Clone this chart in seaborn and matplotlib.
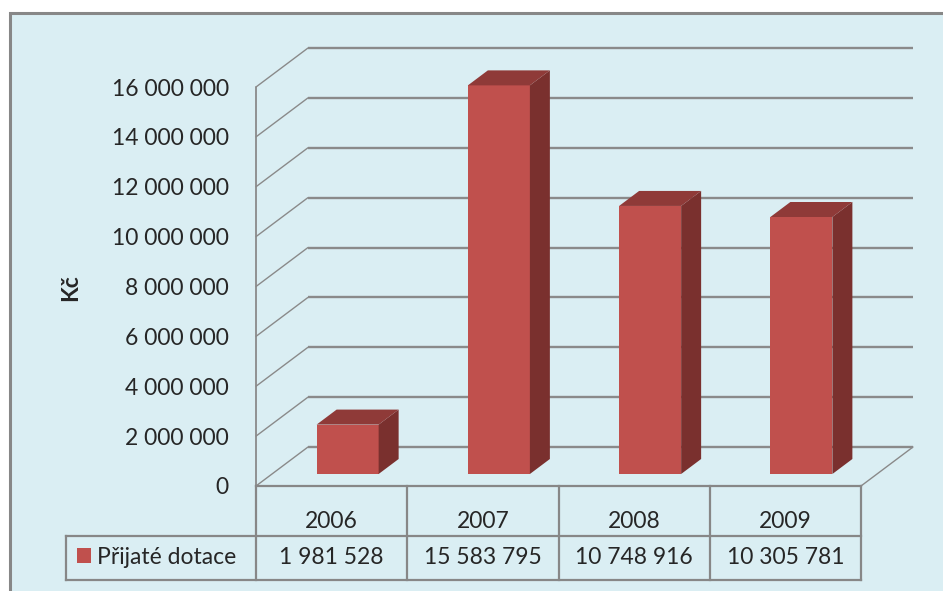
import matplotlib
matplotlib.use("Agg")
import matplotlib.pyplot as plt
from matplotlib.patches import Polygon, Rectangle
import pandas as pd
import seaborn as sns

# ---- data ----
years = ["2006", "2007", "2008", "2009"]
values = [1981528, 15583795, 10748916, 10305781]
series_name = "Přijaté dotace"
y_ticks = [0, 2000000, 4000000, 6000000, 8000000, 10000000, 12000000, 14000000, 16000000]
y_label = "Kč"


def fmt(v):
    return f"{v:,}".replace(",", " ")


# ---- style ----
sns.set_style("white")
plt.rcParams["font.family"] = ["Lato", "DejaVu Sans"]

W, H = 943, 591
BG = "#DAEEF3"
EDGE = "#878787"
GRID = "#8A8A8A"
FRONT = "#C0504D"
SIDE = "#7A302E"
TOP = "#8F3A38"
FS = 16.5

fig = plt.figure(figsize=(W / 100, H / 100), dpi=100)
fig.patch.set_facecolor("white")
fig.patches.append(Rectangle((10 / W, -0.1), 1.2, (H - 13) / H + 0.1,
                             transform=fig.transFigure, facecolor=BG,
                             edgecolor=EDGE, lw=2.2, zorder=-10))


def px_box(left, right, top, bottom):
    return [left / W, 1 - bottom / H, (right - left) / W, (bottom - top) / H]


# main axes: front plane of the floor / left wall
ax = fig.add_axes(px_box(256, 861, 87, 486))
ax.set_xlim(-0.5, 3.5)
ax.set_ylim(0, 16000000)
ax.patch.set_alpha(0)
for s in ax.spines.values():
    s.set_visible(False)

sx = 605 / 4.0          # px per category unit
sy = 399 / 16000000.0   # px per value unit
Dx, Dy = 52 / sx, 39 / sy   # full depth of the 3D box
dx, dy = 20 / sx, 15 / sy   # depth of a bar

# back wall gridlines and left wall diagonals
for t in y_ticks:
    ax.plot([-0.5 + Dx, 3.5 + Dx], [t + Dy, t + Dy], color=GRID, lw=1.7,
            clip_on=False, solid_capstyle="butt", zorder=1)
    ax.plot([-0.5, -0.5 + Dx], [t, t + Dy], color=GRID, lw=1.0,
            clip_on=False, zorder=1)
ax.plot([-0.5, -0.5], [0, y_ticks[-1]], color=GRID, lw=1.3, clip_on=False, zorder=1)
ax.plot([3.5, 3.5 + Dx], [0, Dy], color=GRID, lw=1.0, clip_on=False, zorder=1)

ax.set_yticks(y_ticks, labels=[fmt(t) for t in y_ticks])
ax.set_xticks([])
ax.tick_params(axis="y", length=0, pad=27 * 0.72, labelsize=FS)
ax.set_ylabel(y_label, fontsize=FS, fontweight="bold")
ax.yaxis.set_label_coords(-(256 - 81) / 605, (486 - 288) / 399)

# bars axes: front plane of the bars, shifted into the depth
axf = fig.add_axes(px_box(272, 877, 75, 474))
df = pd.DataFrame({"year": years, "value": values})
sns.barplot(data=df, x="year", y="value", color=FRONT, saturation=1,
            width=0.41, ax=axf, edgecolor="none")
axf.set_xlim(-0.5, 3.5)
axf.set_ylim(0, 16000000)
axf.axis("off")
w = 0.41
for i, v in enumerate(values):
    xl, xr = i - w / 2, i + w / 2
    axf.add_patch(Polygon([(xr, 0), (xr, v), (xr + dx, v + dy), (xr + dx, dy)],
                          closed=True, facecolor=SIDE, edgecolor="none", clip_on=False))
    axf.add_patch(Polygon([(xl, v), (xr, v), (xr + dx, v + dy), (xl + dx, v + dy)],
                          closed=True, facecolor=TOP, edgecolor="none", clip_on=False))

# ---- data table ----
y1 = -(536 - 486) / sy
y2 = -(580 - 486) / sy
xleg = -0.5 - (256 - 66) / sx
lk = dict(color=EDGE, lw=1.6, clip_on=False, zorder=2, solid_capstyle="projecting")
ax.plot([-0.5, 3.5], [0, 0], **lk)
ax.plot([xleg, 3.5], [y1, y1], **lk)
ax.plot([xleg, 3.5], [y2, y2], **lk)
for xb in [-0.5, 0.5, 1.5, 2.5, 3.5]:
    ax.plot([xb, xb], [0, y2], **lk)
ax.plot([xleg, xleg], [y1, y2], **lk)

ty_year = -(521 - 486) / sy
ty_val = -(557 - 486) / sy
for i, (yr, v) in enumerate(zip(years, values)):
    ax.text(i, ty_year, yr, ha="center", va="center", fontsize=FS, clip_on=False)
    ax.text(i, ty_val, fmt(v), ha="center", va="center", fontsize=FS, clip_on=False)

# legend key in the table
ax.add_patch(Rectangle((-0.5 - (256 - 77) / sx, -(563 - 486) / sy), 14 / sx, 15 / sy,
                       facecolor=FRONT, edgecolor="none", clip_on=False))
ax.text(-0.5 - (256 - 97) / sx, ty_val, series_name, ha="left", va="center",
        fontsize=FS, clip_on=False)

fig.savefig("out.png", dpi=100)
